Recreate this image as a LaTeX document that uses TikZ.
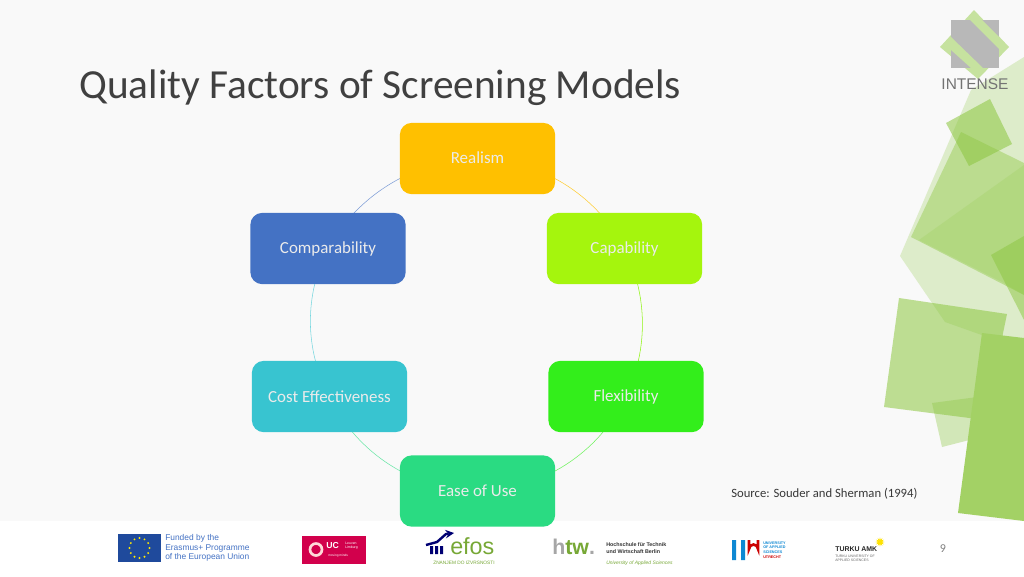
\documentclass[tikz,border=0pt]{standalone}
\usepackage{fontspec}
\setmainfont{Carlito}
\newfontfamily\hv{Liberation Sans}
\usetikzlibrary{shapes.geometric}
\pgfdeclarelayer{page}
\pgfdeclarelayer{arcs}
\pgfsetlayers{page,arcs,main}
\definecolor{pagebg}{HTML}{F9F9F9}
\definecolor{cRealism}{HTML}{FFC000}
\definecolor{cCompar}{HTML}{4472C4}
\definecolor{cCapab}{HTML}{A5F50D}
\definecolor{cFlex}{HTML}{33EE1B}
\definecolor{cEase}{HTML}{2ADB82}
\definecolor{cCost}{HTML}{38C4D0}
\definecolor{titlec}{HTML}{404040}
\definecolor{leaf}{HTML}{8CC63F}
\definecolor{euflag}{HTML}{1F4A9C}
\tikzset{
  x=0.75pt,y=-0.75pt,
  factor/.style={rounded corners=9pt,minimum width=116.5pt,minimum height=53.5pt,inner sep=0pt,text=white!92!black,font=\fontsize{12.7pt}{14pt}\selectfont},
  ring/.style={line width=0.4pt,bend left=#1},
  decor/.style={fill=leaf,draw=none},
  logotext/.style={inner sep=0pt,anchor=west,align=left},
}
\begin{document}
\begin{tikzpicture}
\useasboundingbox (0,0) rectangle (1024,576);
\begin{pgfonlayer}{page}
\fill[pagebg] (0,0) rectangle (1024,576);
\fill[white] (0,521) rectangle (1024,576);
\end{pgfonlayer}
% decorative shapes
\fill[decor,fill opacity=.25] (1024,57) -- (971,90) -- (900,256) -- (945,322) -- (1024,350) -- cycle;
\fill[decor,fill opacity=.35] (932,403) -- (942,447) -- (985,436) -- (985,396) -- cycle;
\fill[decor,fill opacity=.42] (961,132) -- (911,237) -- (1024,295) -- (1024,163) -- cycle;
\fill[decor,fill opacity=.18] (919,240) -- (1024,165) -- (1024,295) -- (1002,282) -- cycle;
\fill[decor,fill opacity=.55] (990,99) -- (1012,144) -- (969,166) -- (946,123) -- cycle;
\fill[decor,fill opacity=.5] (991,255) -- (1024,236) -- (1024,320) -- cycle;
\fill[decor,fill opacity=.55] (899,298) -- (1007,314) -- (985,420) -- (884,407) -- cycle;
\fill[fill=leaf!80!white] (982,333) -- (1024,338) -- (1024,521) -- (958,513) -- cycle;
% logo
\fill[leaf!50!white] (974,10) -- (1009,47) -- (978,79) -- (940,47) -- cycle;
\fill[black!28] (951,20) rectangle (999,68);
\fill[leaf!50!white] (970,20) -- (982,20) -- (999,37) -- (999,49) -- cycle;
\fill[leaf!50!white] (951,37) -- (983,68) -- (971,68) -- (951,50) -- cycle;
\node[inner sep=0pt,text=black!55,font=\hv\fontsize{11.6pt}{12pt}\selectfont] (intense) at (975,84) {INTENSE};
% title
\node[inner sep=0pt,anchor=west,text=titlec,font=\fontsize{31pt}{34pt}\selectfont] (title) at (79,88) {Quality Factors of Screening Models};
% factors
\node[factor,fill=cRealism] (realism) at (477.5,158.5) {\raisebox{.6pt}{Realism}};
\node[factor,fill=cCompar] (compar) at (328,248.5) {\raisebox{-.6pt}{Comparability}};
\node[factor,fill=cCapab] (capab) at (624.5,248.5) {\raisebox{-.6pt}{Capability}};
\node[factor,fill=cCost] (cost) at (329.5,396.5) {Cost Effectiveness};
\node[factor,fill=cFlex] (flex) at (626,396.5) {Flexibility};
\node[factor,fill=cEase] (ease) at (477.5,491) {\raisebox{1pt}{Ease of Use}};
\begin{pgfonlayer}{arcs}
\draw[ring=-30,looseness=.91,draw=cCompar!70!white] (realism.center) to (compar.center);
\draw[ring=-28,looseness=.9,draw=cCost!70!white] (compar.center) to (cost.center);
\draw[ring=-32,looseness=.92,draw=cEase!70!white] (cost.center) to (ease.center);
\draw[ring=-32,looseness=.92,draw=cFlex!70!white] (ease.center) to (flex.center);
\draw[ring=-26,looseness=.9,draw=cCapab!80!cFlex] (flex.center) to (capab.center);
\draw[ring=-31,looseness=.91,draw=cRealism!80!white] (capab.center) to (realism.center);
\end{pgfonlayer}
\node[inner sep=0pt,anchor=west,text=black!78,font=\fontsize{9.5pt}{11pt}\selectfont] (source) at (731,494) {Source: Souder and Sherman (1994)};
\node[inner sep=0pt,text=black!50,font=\fontsize{9pt}{11pt}\selectfont] (page) at (943,549) {9};
% EU flag
\fill[euflag] (118,534) rectangle (161,562);
\foreach \a in {0,30,...,330} \fill[yellow!90!orange] (139.5,548)++(\a:10) circle (1.1);
\node[logotext,text=cCompar,font=\hv\fontsize{6.3pt}{7.2pt}\selectfont] (eu) at (165,548) {Funded by the\\Erasmus+ Programme\\of the European Union};
% UC Leuven
\fill[red!75!black!70!magenta] (302,536) rectangle (366,564);
\draw[white!85!red,line width=2pt] (316,549.5) circle (6);
\node[logotext,text=white,font=\hv\bfseries\fontsize{6.5pt}{7pt}\selectfont] (uc) at (326,546) {UC};
\node[logotext,text=white,font=\hv\fontsize{2.6pt}{3pt}\selectfont] (ucb) at (345,546) {Leuven\\Limburg};
\node[logotext,text=white,font=\hv\fontsize{2.4pt}{3pt}\selectfont] (ucc) at (328,556) {moving minds};
% efos
\draw[line width=1.8pt,draw=blue!45!black,-stealth] (426,545) -- (437,542) -- (446,534) -- (454,533);
\fill[blue!45!black] (430,546) rectangle (433,554) (435,546) rectangle (438,554) (440,546) rectangle (443,554);
\node[logotext,text=leaf!85!black,font=\hv\fontsize{17.5pt}{18pt}\selectfont] (efos) at (450,546) {efos};
\node[inner sep=0pt,text=leaf!85!black,font=\hv\fontsize{3.6pt}{4pt}\selectfont] (efosb) at (464,563) {ZNANJEM DO IZVRSNOSTI};
% HTW
\node[logotext,font=\hv\bfseries\fontsize{16pt}{17pt}\selectfont] (htw) at (552,547) {\textcolor{black!35}{h}\textcolor{leaf!85!black}{tw}\textcolor{black!35}{.}};
\node[logotext,text=black!80,font=\hv\bfseries\fontsize{4pt}{5pt}\selectfont] (htwb) at (606,548) {Hochschule für Technik\\und Wirtschaft Berlin};
\node[logotext,text=leaf!85!black,font=\hv\itshape\fontsize{3.7pt}{4pt}\selectfont] (htwc) at (606,563) {University of Applied Sciences};
% HU
\fill[cyan!70!blue] (732,540) rectangle (736,560) (741,540) rectangle (745,560);
\draw[red!80!black,line width=2pt] (749,540) -- (749,549) arc[start angle=180,end angle=360,radius=4.5] -- (758,540);
\node[logotext,text=cyan!70!blue,font=\hv\bfseries\fontsize{2.8pt}{3.6pt}\selectfont] (hu) at (763,550) {UNIVERSITY\\OF APPLIED\\SCIENCES\\\textcolor{red!80!black}{UTRECHT}};
% Turku
\node[logotext,text=black!85,font=\hv\bfseries\fontsize{5.2pt}{6pt}\selectfont] (turku) at (835,549) {TURKU AMK};
\node[logotext,text=black!60,font=\hv\fontsize{2.6pt}{3.3pt}\selectfont] (turkub) at (835,558) {TURKU UNIVERSITY OF\\APPLIED SCIENCES};
\node[star,star points=12,star point ratio=2,fill=yellow!85!orange,inner sep=0pt,minimum size=7pt] (sun) at (880,542) {};
\end{tikzpicture}
\end{document}
